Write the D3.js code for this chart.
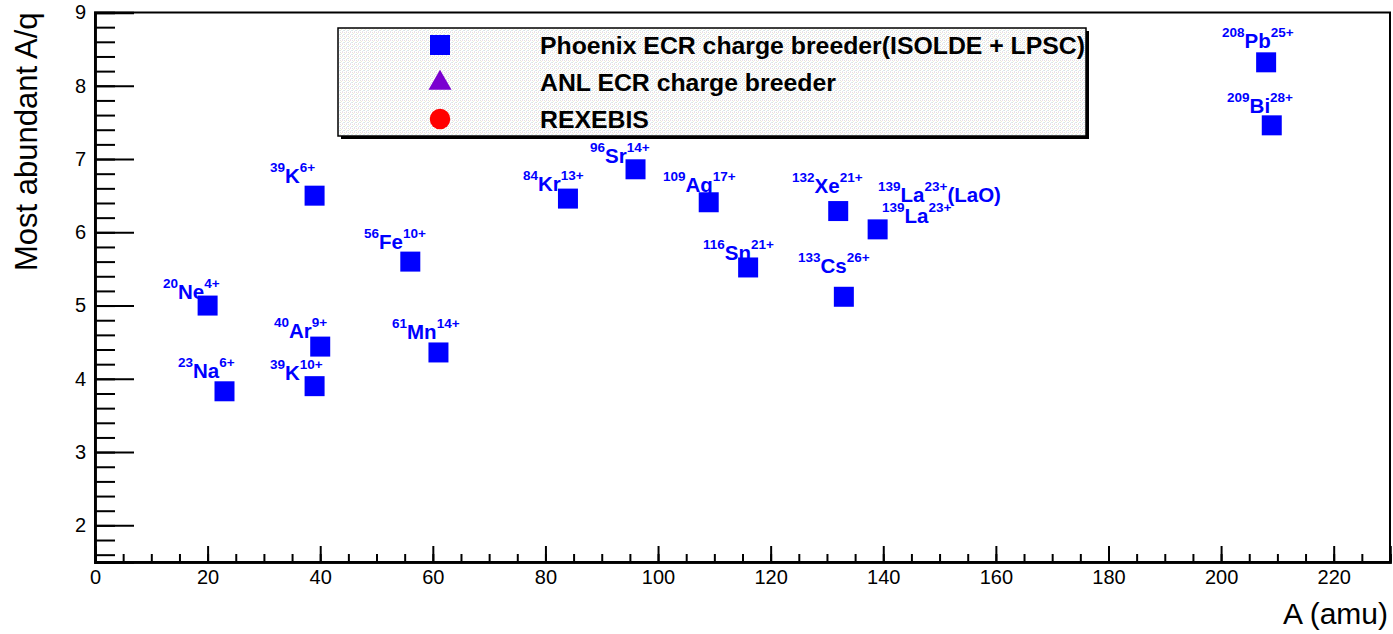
<!DOCTYPE html>
<html>
<head>
<meta charset="utf-8">
<script src="https://cdn.jsdelivr.net/npm/d3@7"></script>
<style>
  html, body { margin: 0; padding: 0; background: #fff; }
  svg { display: block; font-family: "Liberation Sans", Arial, Helvetica, sans-serif; }
</style>
</head>
<body>
<svg id="chart" width="1393" height="634"></svg>
<script>
// ---- data ----
const massA   = [20, 23, 39, 39, 40, 56, 61, 84, 96, 109, 116, 132, 133, 139, 208, 209];
const aOverQ  = [5.00, 3.83, 6.50, 3.90, 4.44, 5.60, 4.36, 6.46, 6.86, 6.41, 5.52, 6.29, 5.12, 6.04, 8.32, 7.46];

const labelMass    = ["20", "23", "39", "39", "40", "56", "61", "84", "96", "109", "116", "132", "133", "139", "139", "208", "209"];
const labelElement = ["Ne", "Na", "K", "K", "Ar", "Fe", "Mn", "Kr", "Sr", "Ag", "Sn", "Xe", "Cs", "La", "La", "Pb", "Bi"];
const labelCharge  = ["4+", "6+", "6+", "10+", "9+", "10+", "14+", "13+", "14+", "17+", "21+", "21+", "26+", "23+", "23+", "25+", "28+"];
const labelSuffix  = ["", "", "", "", "", "", "", "", "", "", "", "", "", "(LaO)", "", "", ""];
const labelA       = [12.08, 14.74, 31.08, 31.08, 31.79, 47.78, 52.75, 76.02, 87.92, 100.88, 107.98, 123.8, 124.86, 139.07, 139.78, 200.17, 201.06];
const labelQ       = [5.09, 4.01, 6.67, 3.98, 4.56, 5.77, 4.54, 6.56, 6.95, 6.55, 5.62, 6.54, 5.44, 6.41, 6.13, 8.52, 7.63];

const legendNames  = ["Phoenix ECR charge breeder(ISOLDE + LPSC)", "ANL ECR charge breeder", "REXEBIS"];
const legendShapes = ["square", "triangle", "circle"];
const legendColors = ["#0000ff", "#7a00d0", "#ff0000"];

const xDomain = [0, 230];
const yDomain = [1.5, 9];
const xMajor = d3.range(0, 221, 20);
const xMinor = d3.range(0, 231, 5);
const yMajor = d3.range(2, 10, 1);
const yMinor = d3.range(1.6, 9.01, 0.2);

// ---- layout ----
const svg = d3.select("#chart");
const L = 95, R = 1390, T = 12.5, B = 562;
const x = d3.scaleLinear().domain(xDomain).range([L, R]);
const y = d3.scaleLinear().domain(yDomain).range([B, T]);

svg.append("rect").attr("x", L).attr("y", T).attr("width", R - L).attr("height", B - T)
  .attr("fill", "none").attr("stroke", "#000").attr("stroke-width", 2);

const gyMin = svg.append("g").attr("transform", `translate(${L},0)`)
  .call(d3.axisLeft(y).tickValues(yMinor).tickSize(-20).tickFormat(""));
const gy = svg.append("g").attr("transform", `translate(${L},0)`)
  .call(d3.axisLeft(y).tickValues(yMajor).tickSize(-39).tickPadding(9).tickFormat(d3.format("d")));
const gxMin = svg.append("g").attr("transform", `translate(0,${B})`)
  .call(d3.axisBottom(x).tickValues(xMinor).tickSize(-8).tickFormat(""));
const gx = svg.append("g").attr("transform", `translate(0,${B})`)
  .call(d3.axisBottom(x).tickValues(xMajor).tickSize(-16).tickPadding(8).tickFormat(d3.format("d")));

[gyMin, gy, gxMin, gx].forEach(g => {
  g.selectAll(".domain").attr("stroke", "#000").attr("stroke-width", 2.5);
  g.selectAll(".tick line").attr("stroke", "#000").attr("stroke-width", 2);
  g.selectAll("text").attr("font-size", 20).attr("fill", "#000")
    .attr("font-family", "'Liberation Sans', Arial, Helvetica, sans-serif");
});

svg.append("text").attr("transform", `translate(37,${T}) rotate(-90)`)
  .attr("text-anchor", "end").attr("font-size", 31).text("Most abundant A/q");
svg.append("text").attr("x", 1388).attr("y", 624)
  .attr("text-anchor", "end").attr("font-size", 30).text("A (amu)");

// Legend
const defs = svg.append("defs");
const pat = defs.append("pattern").attr("id", "dots").attr("patternUnits", "userSpaceOnUse")
  .attr("width", 4).attr("height", 4);
pat.append("rect").attr("width", 4).attr("height", 4).attr("fill", "#ffffff");
const dotCols = ["#e0e0e0", "#eedcea", "#eef0d4", "#d8ecf2", "#e0e0e0", "#e6e6e6"];
[[0,0],[2,0],[1,1],[3,2],[0,2],[2,3]].forEach((p, i) => {
  pat.append("rect").attr("x", p[0]).attr("y", p[1]).attr("width", 1).attr("height", 1)
    .attr("fill", dotCols[i % dotCols.length]);
});
const lg = { x: 338, y: 28, w: 748, h: 108 };
svg.append("rect").attr("x", lg.x).attr("y", lg.y).attr("width", lg.w).attr("height", lg.h)
  .attr("fill", "url(#dots)").attr("stroke", "#000").attr("stroke-width", 1.5);
svg.append("line").attr("x1", lg.x + 3).attr("x2", lg.x + lg.w + 1.5).attr("y1", lg.y + lg.h + 1.5).attr("y2", lg.y + lg.h + 1.5)
  .attr("stroke", "#000").attr("stroke-width", 3);
svg.append("line").attr("x1", lg.x + lg.w + 1.5).attr("x2", lg.x + lg.w + 1.5).attr("y1", lg.y + 3).attr("y2", lg.y + lg.h + 3)
  .attr("stroke", "#000").attr("stroke-width", 3);

const rowY = d3.scalePoint().domain(legendNames).range([45, 119]);
const symType = { square: d3.symbolSquare, triangle: d3.symbolTriangle, circle: d3.symbolCircle };
const symSize = { square: 400, triangle: 230, circle: 330 };
legendNames.forEach((name, i) => {
  const cy = rowY(name);
  svg.append("path").attr("transform", `translate(440,${cy + (legendShapes[i] === "triangle" ? 1 : 0)})`)
    .attr("d", d3.symbol().type(symType[legendShapes[i]]).size(symSize[legendShapes[i]])())
    .attr("fill", legendColors[i]);
  svg.append("text").attr("x", 540).attr("y", cy + 8.5).attr("font-size", 24.8).attr("font-weight", "bold")
    .attr("fill", "#000").text(name);
});

// Points
svg.append("g").selectAll("path").data(massA).join("path")
  .attr("transform", (d, i) => `translate(${x(d)},${y(aOverQ[i])})`)
  .attr("d", d3.symbol().type(d3.symbolSquare).size(400)())
  .attr("fill", "#0000ff");

// Labels
const lab = svg.append("g").attr("fill", "#0000ff").attr("font-weight", "bold");
labelElement.forEach((el, i) => {
  const t = lab.append("text").attr("x", x(labelA[i])).attr("y", y(labelQ[i]));
  t.append("tspan").attr("font-size", 13.5).attr("dy", -11).text(labelMass[i]);
  t.append("tspan").attr("font-size", 20.5).attr("dy", 11).text(el);
  t.append("tspan").attr("font-size", 13.5).attr("dy", -11).text(labelCharge[i]);
  if (labelSuffix[i]) t.append("tspan").attr("font-size", 20.5).attr("dy", 11).text(labelSuffix[i]);
});
</script>
</body>
</html>
